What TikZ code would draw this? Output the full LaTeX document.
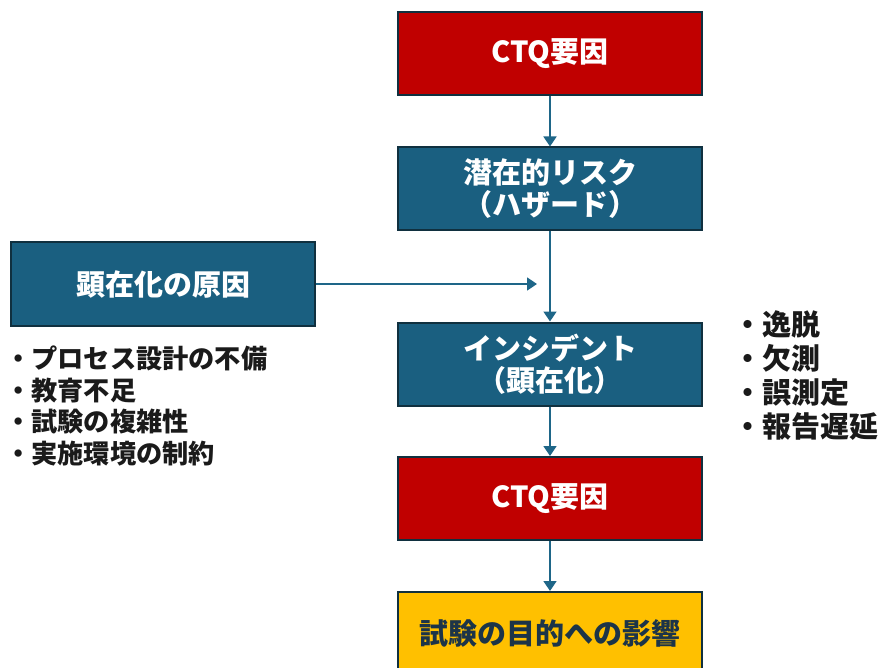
\documentclass[tikz,border=0pt]{standalone}
\usepackage{fontspec}
\setmainfont{Noto Sans CJK JP}
\usetikzlibrary{arrows.meta}
\definecolor{ctqred}{HTML}{C00000}
\definecolor{boxblue}{HTML}{1A5F80}
\definecolor{edgedark}{HTML}{10303F}
\definecolor{arrowblue}{HTML}{1E6688}
\definecolor{goldbox}{HTML}{FFC000}
\definecolor{navytext}{HTML}{1C3448}
\definecolor{bodytext}{HTML}{1A1A1A}
\tikzset{
  flowbox/.style={draw=edgedark, line width=2pt, minimum width=304pt, minimum height=83pt,
    inner sep=0pt, text=white, font=\fontsize{29}{32}\selectfont\bfseries, align=center},
  redbox/.style={flowbox, fill=ctqred},
  bluebox/.style={flowbox, fill=boxblue},
  goldbox/.style={flowbox, fill=goldbox, text=navytext},
  flowarrow/.style={draw=arrowblue, line width=1.6pt, -{Triangle[width=13pt,length=10pt]}},
  listtext/.style={text=bodytext, align=left, inner sep=0pt, anchor=north west},
}
\begin{document}
\begin{tikzpicture}[x=1pt,y=-1pt]
\useasboundingbox (0,0) rectangle (880,668);
\clip (0,0) rectangle (880,668);
\node[redbox] (ctq1) at (550,53.5) {CTQ要因};
\node[bluebox] (risk) at (550,189) {潜在的リスク\\（ハザード）};
\node[bluebox] (cause) at (163,284) {顕在化の原因};
\node[bluebox] (inc) at (550,364) {インシデント\\（顕在化）};
\node[redbox] (ctq2) at (550,498.5) {CTQ要因};
\node[goldbox] (goal) at (550,633.5) {試験の目的への影響};
\coordinate (join) at (537,284);
\draw[flowarrow] (ctq1) -- (risk);
\draw[flowarrow] (risk) -- (inc);
\draw[flowarrow] (cause.east) -- (join);
\draw[flowarrow] (inc) -- (ctq2);
\draw[flowarrow] (ctq2) -- (goal);
\node[listtext, font=\fontsize{26.2}{31.7}\selectfont\bfseries] (causes) at (5,345.5)
  {・プロセス設計の不備\\・教育不足\\・試験の複雑性\\・実施環境の制約};
\node[listtext, font=\fontsize{29}{34.3}\selectfont\bfseries] (effects) at (733,310)
  {・逸脱\\・欠測\\・誤測定\\・報告遅延};
\end{tikzpicture}
\end{document}
